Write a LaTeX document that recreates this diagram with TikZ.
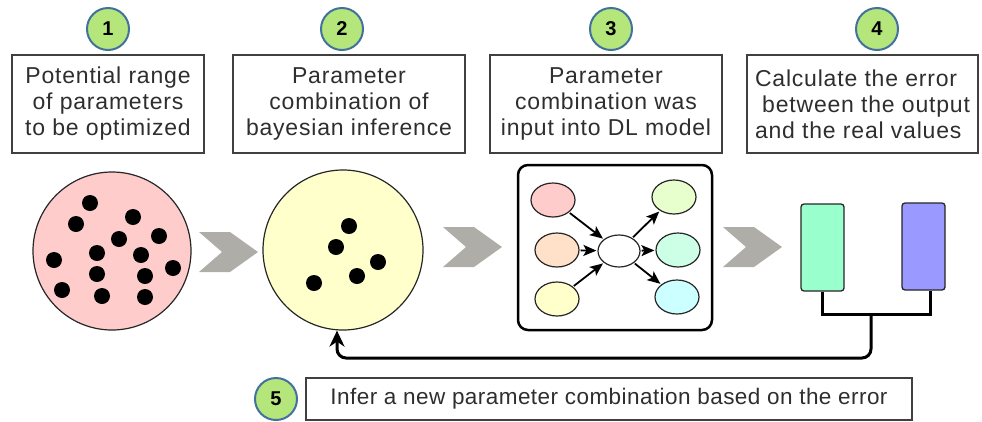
\documentclass[tikz,border=0pt]{standalone}
\usepackage{fontspec}
\setmainfont{Liberation Sans}
\newfontfamily\capfont{Liberation Sans}[LetterSpace=3.5]
\newfontfamily\notefont{Liberation Sans}[LetterSpace=2]
\usetikzlibrary{arrows.meta,shapes.geometric}

\definecolor{badgefill}{HTML}{B5E67B}
\definecolor{badgeline}{HTML}{41719C}
\definecolor{txtgrey}{HTML}{2E2E2E}
\definecolor{boxline}{HTML}{404040}
\definecolor{chevgrey}{HTML}{AEADA8}
\definecolor{poolpink}{HTML}{FFCCCC}
\definecolor{poolyellow}{HTML}{FFFFCC}
\definecolor{inpeach}{HTML}{FFE0C8}
\definecolor{outlime}{HTML}{E6FFCC}
\definecolor{outmint}{HTML}{CCFFE6}
\definecolor{outcyan}{HTML}{CCFFFF}
\definecolor{predgreen}{HTML}{99FFCC}
\definecolor{truthblue}{HTML}{9999FF}

\begin{document}
\begin{tikzpicture}[x=1pt,y=-1pt,
  badge/.style={circle, minimum size=42pt, inner sep=0pt, line width=2pt,
    draw=badgeline, fill=badgefill, font=\fontsize{20}{20}\selectfont\bfseries},
  stepbox/.style={rectangle, draw=boxline, line width=1.3pt, minimum height=98pt,
    inner sep=0pt, text=txtgrey, align=center,
    font=\capfont\fontsize{23}{26}\selectfont},
  pool/.style={circle, draw=black!85, line width=1.2pt, inner sep=0pt},
  dot/.style={circle, fill=black, minimum size=16pt, inner sep=0pt},
  unit/.style={ellipse, draw=black!85, line width=1.2pt, minimum width=44pt,
    minimum height=34pt, inner sep=0pt},
  link/.style={-{Stealth[length=13pt,width=11pt,inset=3pt]}, line width=1.8pt,
    shorten <=1pt, shorten >=1pt},
  bar/.style={rectangle, rounded corners=3pt, draw=black!85, line width=1.3pt,
    minimum width=43pt, minimum height=87pt, inner sep=0pt},
  wire/.style={line width=3pt},
  chev/.pic={\fill[chevgrey] (0,0) -- (31,0) -- (59,20) -- (31,40) -- (0,40) -- (23,20) -- cycle;}
]
\useasboundingbox (0,0) rectangle (982,421);

% step badges
\node[badge] (b1) at (108,29) {1};
\node[badge] (b2) at (342,29) {2};
\node[badge] (b3) at (611,29) {3};
\node[badge] (b4) at (877,29) {4};

% step captions
\node[stepbox, minimum width=192pt] (t1) at (108,104)
  {Potential range\\of parameters\\to be optimized};
\node[stepbox, minimum width=232pt] (t2) at (349,104)
  {Parameter\\combination of\\bayesian inference};
\node[stepbox, minimum width=232pt] (t3) at (606,104)
  {Parameter\\combination was\\input into DL model};
\node[stepbox, minimum width=231pt, align=left] (t4) at (862.5,104)
  {Calculate the error\\\ between the output\\and the real values};

% candidate pool
\node[pool, fill=poolpink, minimum size=158pt] (c1) at (112,251) {};
\foreach \px/\py in {90/203, 76/224, 133/217, 119/239, 159/236, 97/253, 141/255,
  54/260, 173/268, 97/274, 145/276, 62/290, 102/296, 145/297}
  \node[dot] at (\px,\py) {};

% bayesian proposal
\node[pool, fill=poolyellow, minimum size=160pt] (c2) at (343,250) {};
\foreach \px/\py in {349/226, 336/247, 378/262, 357/276, 314/283}
  \node[dot] at (\px,\py) {};

% flow chevrons
\pic at (199,232) {chev};
\pic at (443,227) {chev};
\pic at (723,227) {chev};

% network sketch
\node[rectangle, rounded corners=10pt, draw=black, line width=2.5pt,
  minimum width=194pt, minimum height=165pt] (net) at (615,247.5) {};
\node[unit, fill=poolpink] (i1) at (553,200) {};
\node[unit, fill=inpeach] (i2) at (557,250) {};
\node[unit, fill=poolyellow] (i3) at (557,299) {};
\node[unit, fill=white, minimum width=42pt, minimum height=32pt] (h) at (619,251) {};
\node[unit, fill=outlime] (o1) at (674,197) {};
\node[unit, fill=outmint] (o2) at (678,250) {};
\node[unit, fill=outcyan] (o3) at (677,297) {};
\draw[link] (i1) -- (h);
\draw[link] (i2) -- (h);
\draw[link] (i3) -- (h);
\draw[link] (h) -- (o1);
\draw[link] (h) -- (o2);
\draw[link] (h) -- (o3);

% output versus observation
\node[bar, fill=predgreen] (g) at (822.5,247.5) {};
\node[bar, fill=truthblue] (v) at (923.5,246.5) {};
\coordinate (jct) at (871,314);
\coordinate (vfoot) at ([xshift=7pt]v.south);
\draw[wire] (g.south) -- (g.south |- jct) -- (vfoot |- jct) -- (vfoot);

% feedback loop
\coordinate (fbR) at (871,358);
\coordinate (fbL) at (337,358);
\draw[wire, rounded corners=9pt, -{Stealth[length=16pt,width=15pt,inset=5pt]}]
  (jct) -- (fbR) -- (fbL) -- (fbL |- c2.south);

% step 5
\node[badge] (b5) at (276,399) {5};
\node[rectangle, draw=boxline, line width=1.3pt, minimum width=606pt,
  minimum height=42pt, inner sep=0pt, text=txtgrey,
  font=\notefont\fontsize{22.5}{25.7}\selectfont] (t5) at (609,399)
  {Infer a new parameter combination based on the error};
\end{tikzpicture}
\end{document}
